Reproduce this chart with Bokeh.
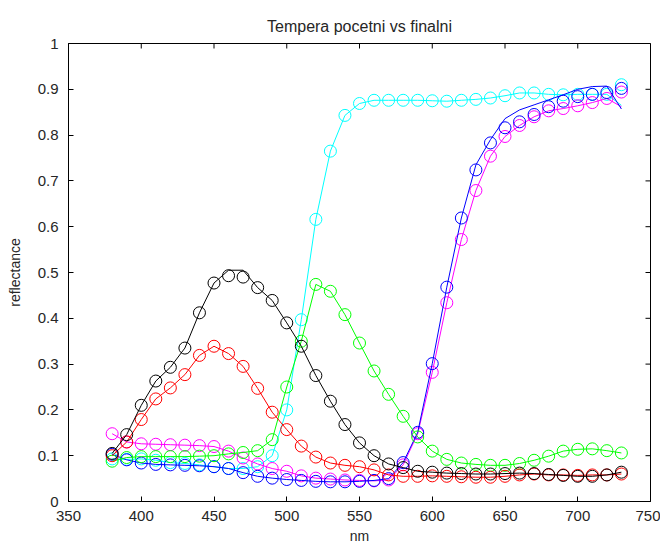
import math
from bokeh.plotting import figure
from bokeh.models import FixedTicker, NumeralTickFormatter, Range1d
from bokeh.embed import file_html
from bokeh.resources import INLINE

wavelength = [380, 390, 400, 410, 420, 430, 440, 450, 460, 470, 480, 490,
              500, 510, 520, 530, 540, 550, 560, 570, 580, 590, 600, 610,
              620, 630, 640, 650, 660, 670, 680, 690, 700, 710, 720, 730]

# final (markers)
cyan_final = [0.093, 0.092, 0.093, 0.090, 0.085, 0.083, 0.080, 0.076, 0.072, 0.072, 0.076, 0.100,
              0.200, 0.397, 0.616, 0.765, 0.843, 0.869, 0.876, 0.876, 0.876, 0.876, 0.875, 0.874,
              0.876, 0.878, 0.881, 0.886, 0.892, 0.892, 0.889, 0.888, 0.889, 0.889, 0.889, 0.910]
magenta_final = [0.148, 0.130, 0.126, 0.125, 0.124, 0.123, 0.122, 0.120, 0.110, 0.095, 0.082, 0.072,
                 0.066, 0.056, 0.051, 0.049, 0.047, 0.046, 0.045, 0.047, 0.080, 0.148, 0.282, 0.434,
                 0.572, 0.679, 0.754, 0.797, 0.821, 0.840, 0.853, 0.858, 0.864, 0.871, 0.880, 0.894]
blue_final = [0.103, 0.091, 0.084, 0.081, 0.080, 0.079, 0.078, 0.076, 0.072, 0.063, 0.055, 0.051,
              0.048, 0.046, 0.044, 0.043, 0.043, 0.044, 0.046, 0.050, 0.085, 0.151, 0.301, 0.468,
              0.619, 0.724, 0.783, 0.816, 0.829, 0.845, 0.862, 0.874, 0.884, 0.889, 0.893, 0.902]
green_final = [0.088, 0.096, 0.098, 0.098, 0.098, 0.098, 0.099, 0.100, 0.104, 0.107, 0.111, 0.135,
               0.250, 0.350, 0.474, 0.459, 0.408, 0.346, 0.285, 0.234, 0.186, 0.141, 0.110, 0.092,
               0.084, 0.081, 0.079, 0.079, 0.083, 0.090, 0.099, 0.110, 0.114, 0.115, 0.111, 0.106]
red_final = [0.100, 0.130, 0.179, 0.224, 0.248, 0.277, 0.319, 0.339, 0.323, 0.295, 0.247, 0.195,
             0.157, 0.121, 0.097, 0.084, 0.079, 0.076, 0.069, 0.058, 0.055, 0.055, 0.056, 0.055,
             0.054, 0.053, 0.053, 0.055, 0.058, 0.060, 0.058, 0.058, 0.057, 0.058, 0.058, 0.060]
black_final = [0.105, 0.146, 0.210, 0.263, 0.293, 0.335, 0.412, 0.477, 0.493, 0.490, 0.467, 0.439,
               0.390, 0.339, 0.275, 0.219, 0.168, 0.128, 0.100, 0.082, 0.074, 0.066, 0.064, 0.062,
               0.061, 0.060, 0.060, 0.061, 0.062, 0.061, 0.059, 0.057, 0.055, 0.055, 0.058, 0.064]

# initial (lines)
cyan_initial = [0.093, 0.092, 0.093, 0.090, 0.085, 0.083, 0.080, 0.076, 0.072, 0.072, 0.076, 0.100,
                0.200, 0.397, 0.616, 0.765, 0.843, 0.869, 0.876, 0.876, 0.876, 0.876, 0.875, 0.874,
                0.876, 0.878, 0.881, 0.886, 0.892, 0.892, 0.889, 0.888, 0.889, 0.889, 0.889, 0.865]
magenta_initial = [0.148, 0.130, 0.126, 0.125, 0.124, 0.123, 0.122, 0.120, 0.110, 0.095, 0.082, 0.072,
                   0.066, 0.056, 0.051, 0.049, 0.047, 0.046, 0.045, 0.047, 0.080, 0.148, 0.282, 0.434,
                   0.572, 0.679, 0.754, 0.797, 0.821, 0.840, 0.853, 0.858, 0.864, 0.871, 0.880, 0.862]
blue_initial = [0.103, 0.091, 0.084, 0.081, 0.080, 0.079, 0.078, 0.076, 0.072, 0.063, 0.055, 0.051,
                0.048, 0.046, 0.044, 0.043, 0.043, 0.044, 0.046, 0.050, 0.085, 0.151, 0.301, 0.468,
                0.619, 0.735, 0.790, 0.836, 0.855, 0.866, 0.877, 0.888, 0.900, 0.906, 0.907, 0.857]
green_initial = green_final
red_initial = red_final
black_initial = [0.105, 0.146, 0.210, 0.263, 0.293, 0.335, 0.412, 0.477, 0.505, 0.505, 0.467, 0.439,
                 0.390, 0.339, 0.275, 0.219, 0.168, 0.128, 0.100, 0.082, 0.074, 0.066, 0.064, 0.062,
                 0.061, 0.060, 0.060, 0.061, 0.062, 0.061, 0.059, 0.057, 0.055, 0.055, 0.058, 0.064]

x_ticks = [350, 400, 450, 500, 550, 600, 650, 700, 750]
y_ticks = [0, 0.1, 0.2, 0.3, 0.4, 0.5, 0.6, 0.7, 0.8, 0.9, 1]

series = [
    ("#00FFFF", cyan_initial, cyan_final),
    ("#FF00FF", magenta_initial, magenta_final),
    ("#0000FF", blue_initial, blue_final),
    ("#00FF00", green_initial, green_final),
    ("#FF0000", red_initial, red_final),
    ("#000000", black_initial, black_final),
]

FONT = "Liberation Sans"
TXT = "#262626"

xr = Range1d(350, 750)
yr = Range1d(0, 1)
p = figure(width=660, height=548, output_backend="svg", toolbar_location=None,
           x_range=xr, y_range=yr,
           title="Tempera pocetni vs finalni",
           min_border_left=68, min_border_right=10, min_border_top=43, min_border_bottom=47)
p.title.align = "center"
p.title.text_font = FONT
p.title.text_font_size = "16px"
p.title.text_font_style = "normal"
p.title.text_color = TXT
p.title.standoff = 17

p.xgrid.visible = False
p.ygrid.visible = False
p.outline_line_color = "black"
p.outline_line_width = 1
p.background_fill_color = "white"
p.border_fill_color = "white"

for ax in (p.xaxis[0], p.yaxis[0]):
    ax.major_tick_in = 5
    ax.major_tick_out = 0
    ax.minor_tick_in = 0
    ax.minor_tick_out = 0
    ax.axis_line_color = "black"
    ax.major_label_text_font = FONT
    ax.major_label_text_font_size = "15px"
    ax.major_label_text_color = TXT
    ax.axis_label_text_font = FONT
    ax.axis_label_text_font_size = "14px"
    ax.axis_label_text_font_style = "normal"
    ax.axis_label_text_color = TXT

p.xaxis.ticker = FixedTicker(ticks=x_ticks)
p.yaxis.ticker = FixedTicker(ticks=y_ticks)
p.yaxis.formatter = NumeralTickFormatter(format="0.[0]")
p.xaxis.axis_label = "nm"
p.yaxis.axis_label = "reflectance"
p.xaxis.major_label_standoff = 9
p.yaxis.major_label_standoff = 10
p.xaxis.axis_label_standoff = 4
p.yaxis.axis_label_standoff = 12

# inward tick marks on the top and right edges of the box (clipped to the frame)
p.scatter(x_ticks, [yr.end] * len(x_ticks), marker="dash", size=10, angle=math.pi / 2,
          line_color="black", line_width=1)
p.scatter([xr.end] * len(y_ticks), y_ticks, marker="dash", size=10,
          line_color="black", line_width=1)

for color, line_vals, marker_vals in series:
    p.line(wavelength, line_vals, line_color=color, line_width=1)
    p.scatter(wavelength, marker_vals, marker="circle", size=12,
              fill_color=None, line_color=color, line_width=1)

open("out.html", "w").write(file_html(p, INLINE))
